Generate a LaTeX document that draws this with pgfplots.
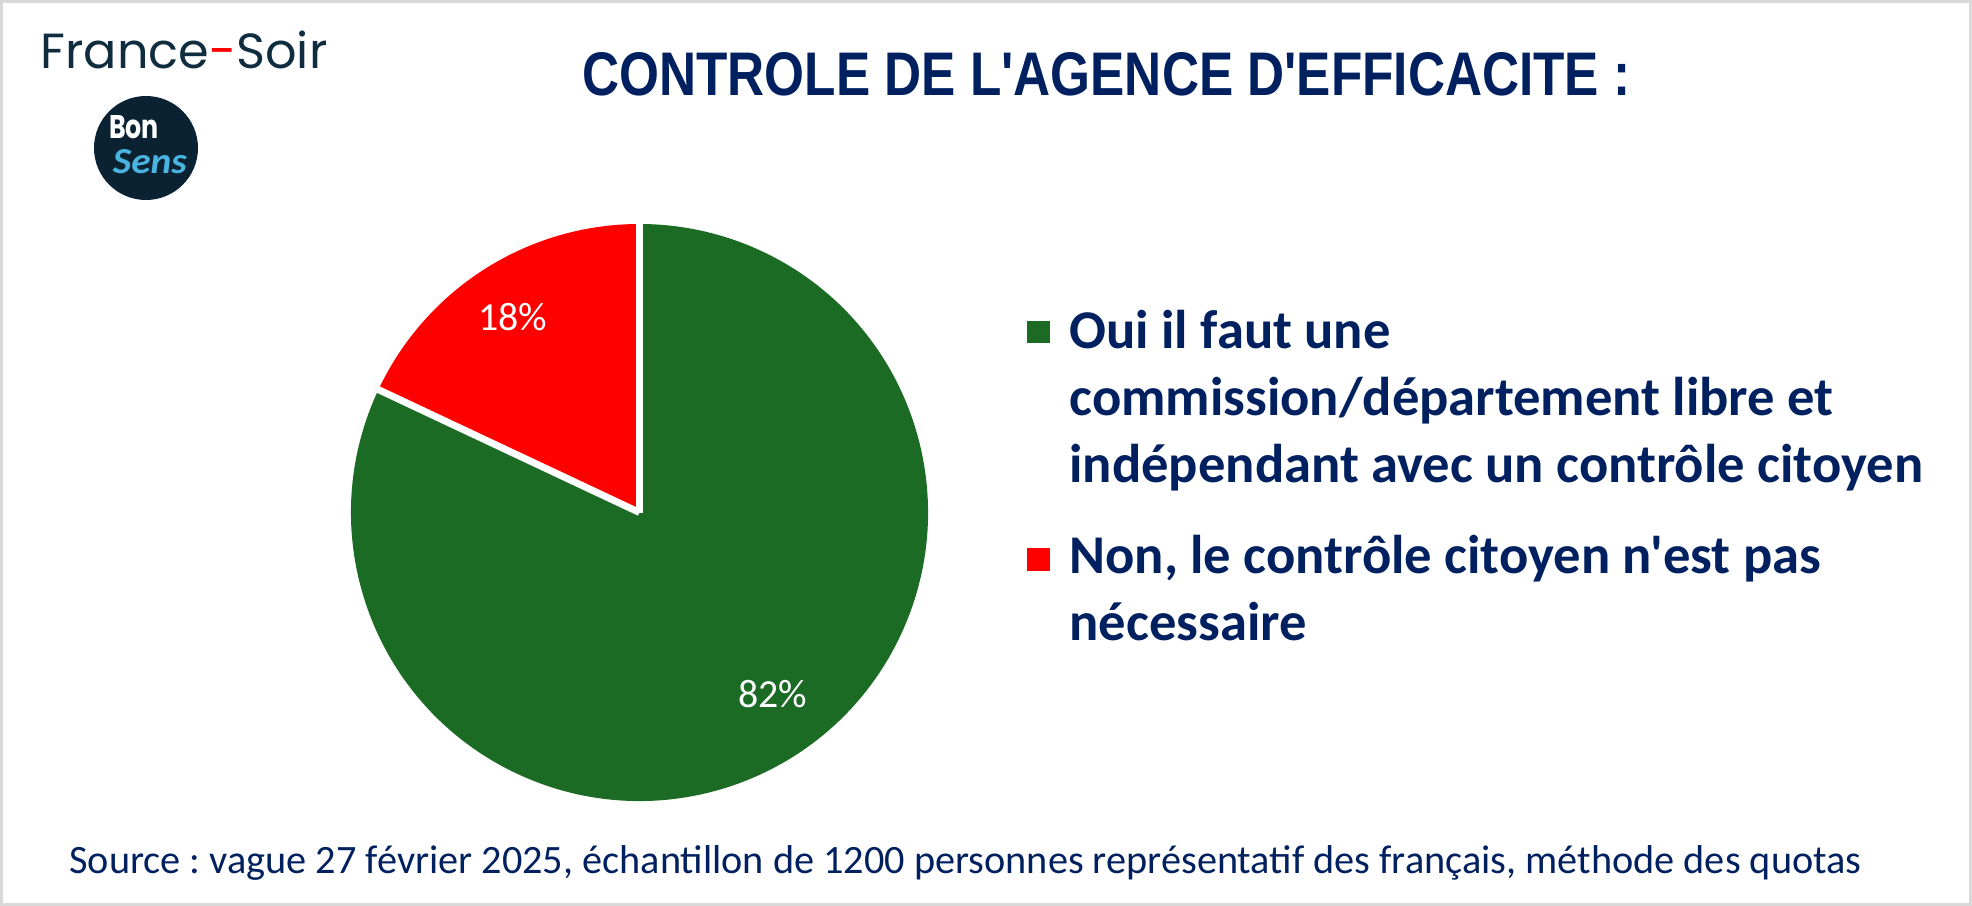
\documentclass[border=0pt]{standalone}
\usepackage{fontspec}
\setmainfont{Carlito}
\newfontfamily\titlefont{Liberation Sans}
\newfontfamily\legendfont{Carlito}
\newfontfamily\logofont{Poppins}
\usepackage{graphicx}
\usepackage{pgfplots}
\usepackage{pgfplotstable}
\pgfplotsset{compat=1.18}
\frenchspacing

\definecolor{navy}{HTML}{002060}
\definecolor{pgreen}{HTML}{1B6B25}
\definecolor{pred}{HTML}{FF0000}
\definecolor{frame}{HTML}{D9D9D9}
\definecolor{logodark}{HTML}{0B2233}
\definecolor{logoblue}{HTML}{4AB3E0}
\definecolor{fstext}{HTML}{0F2D3F}

\pgfplotstableread{
label value
Oui 82
Non 18
}\piedata
\pgfplotstablegetelem{1}{value}\of\piedata
\pgfmathsetmacro\angEnd{90+3.6*\pgfplotsretval}

\begin{document}
\begin{tikzpicture}
\begin{axis}[
  width=986bp, height=453bp, scale only axis,
  xmin=0, xmax=1972, ymin=0, ymax=906, y dir=reverse,
  hide axis, clip=false,
]
% frame
\draw[frame, line width=1.5bp] (axis cs:1.5,1.5) rectangle (axis cs:1970.5,904.5);

% pie
\fill[pred] (axis cs:639.5,512.5) -- ++(90:144.25bp)
   arc[start angle=90, end angle=\angEnd, radius=144.25bp] -- cycle;
\fill[pgreen] (axis cs:639.5,512.5) -- ++(\angEnd:144.25bp)
   arc[start angle=\angEnd, end angle=450, radius=144.25bp] -- cycle;
\draw[white, line width=3.5bp] (axis cs:639.5,512.5) -- ++(90:145bp);
\draw[white, line width=3.5bp] (axis cs:639.5,512.5) -- ++(\angEnd:145bp);

\node[white, inner sep=0, font=\fontsize{20}{20}\selectfont] at (axis cs:513,317) {18\%};
\node[white, inner sep=0, font=\fontsize{20}{20}\selectfont] at (axis cs:773,694) {82\%};

% title
\node[anchor=base west, inner sep=0, navy] at (axis cs:582,96)
  {\resizebox{524bp}{21.5bp}{\titlefont\bfseries CONTROLE DE L'AGENCE D'EFFICACITE :}};

% legend
\fill[pgreen] (axis cs:1027,321) rectangle (axis cs:1050,343);
\fill[pred] (axis cs:1027,548) rectangle (axis cs:1050,571);
\begin{scope}[every node/.style={anchor=base west, inner sep=0, navy, font=\legendfont\fontsize{27.4}{27.4}\selectfont\bfseries}]
\node at (axis cs:1069,348) {Oui il faut une};
\node at (axis cs:1069,415) {commission/département libre et};
\node at (axis cs:1069,482) {indépendant avec un contrôle citoyen};
\node at (axis cs:1069,573) {Non, le contrôle citoyen n'est pas};
\node at (axis cs:1069,640) {nécessaire};
\end{scope}

% source
\node[anchor=base west, inner sep=0, navy] at (axis cs:69,873)
  {\resizebox{896bp}{!}{\fontsize{21}{21}\selectfont Source : vague 27 février 2025, échantillon de 1200 personnes représentatif des français, méthode des quotas}};

% France-Soir logo
\node[anchor=base west, inner sep=0, fstext] at (axis cs:40,69)
  {\resizebox{143.5bp}{!}{\logofont\fontsize{30}{30}\selectfont France\textcolor{pred}{-}Soir}};
\fill[logodark] (axis cs:146,148) circle[radius=26bp];
\node[anchor=base, inner sep=0, white] at (axis cs:134,139)
  {\resizebox{25bp}{11.5bp}{\logofont\bfseries Bon}};
\node[anchor=base, inner sep=0, logoblue] at (axis cs:150,174)
  {\resizebox{37bp}{12bp}{\itshape\bfseries Sens}};
\end{axis}
\end{tikzpicture}
\end{document}
